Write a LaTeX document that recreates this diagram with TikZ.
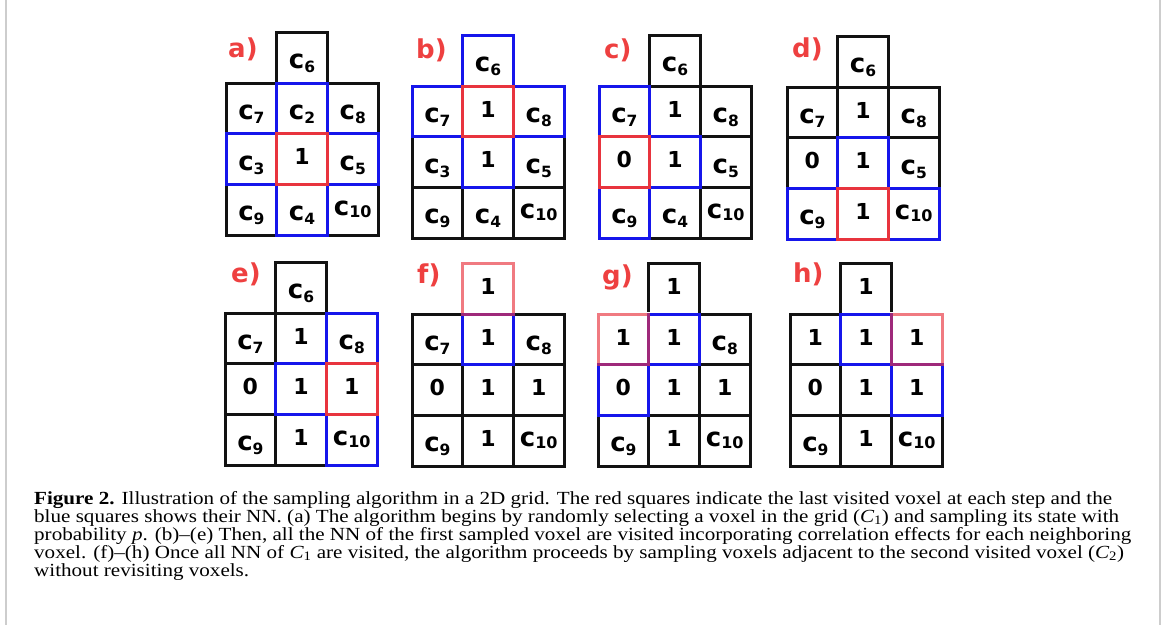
\documentclass[tikz,border=0pt]{standalone}
\usepackage{fontspec}
\setmainfont{Liberation Serif}[FakeStretch=1.14]
\newfontfamily\dvs{DejaVu Sans}
\definecolor{nnblue}{RGB}{22,22,235}
\definecolor{lastred}{RGB}{232,52,62}
\definecolor{labred}{RGB}{238,64,64}
\definecolor{framegrey}{RGB}{205,205,205}
\definecolor{gridblack}{RGB}{18,18,18}
\newcommand\cc[1]{\raisebox{-5.5pt}{\fontsize{26}{26}\selectfont c}\raisebox{-9.5pt}{\fontsize{15.5}{15.5}\selectfont #1}}
\newcommand\ccx{\raisebox{-0.5pt}{\fontsize{26}{26}\selectfont c}\raisebox{-2pt}{\fontsize{16}{16}\selectfont 10}}
\newcommand\gpanel[4]{%
  \foreach \lab [count=\i] in {#4} {%
    \ifnum\i=1
      \node[cell] (#1-\i) at ({#2+50.7}, {#3-50.7}) {\lab};
    \else
      \pgfmathtruncatemacro\rowidx{(\i-2)/3}%
      \pgfmathtruncatemacro\colidx{mod(\i-2,3)}%
      \node[cell] (#1-\i) at ({#2+50.7*\colidx}, {#3+50.7*\rowidx}) {\lab};
    \fi
  }%
}
\newcommand\hl[2]{\draw[#1] (#2.north west) rectangle (#2.south east);}
\tikzset{
  cell/.style={draw=gridblack, line width=3pt, minimum width=50.7pt,
    text height=31pt, text depth=19.7pt, inner sep=0pt, outer sep=0pt,
    anchor=north west, font=\dvs\bfseries\fontsize{22}{22}\selectfont},
  nn/.style={draw=nnblue, line width=3pt},
  last/.style={draw=lastred, line width=3pt},
  wipe/.style={draw=white, line width=3.4pt},
  lastsoft/.style={draw=lastred, draw opacity=0.65, line width=3pt},
  plabel/.style={anchor=base west, inner sep=0pt, text=labred,
    font=\dvs\bfseries\fontsize{26}{26}\selectfont},
  capline/.style={anchor=base west, inner sep=0pt,
    font=\fontsize{18.5}{18.5}\selectfont},
  frameline/.style={draw=framegrey, line width=2pt}
}
\begin{document}
\begin{tikzpicture}[x=1pt,y=-1pt]
\useasboundingbox (0,0) rectangle (1165,630);
\coordinate (fl1) at (6,0);
\coordinate (fl2) at (6,625);
\coordinate (fr1) at (1160,0);
\coordinate (fr2) at (1160,625);
\draw[frameline] (fl1) -- (fl2);
\draw[frameline] (fr1) -- (fr2);

% panels
\gpanel{a}{226}{83}{\cc6, \cc7, \cc2, \cc8, \cc3, 1, \cc5, \cc9, \cc4, \ccx}
\gpanel{b}{412}{86}{\cc6, \cc7, 1, \cc8, \cc3, 1, \cc5, \cc9, \cc4, \ccx}
\gpanel{c}{599}{86}{\cc6, \cc7, 1, \cc8, 0, 1, \cc5, \cc9, \cc4, \ccx}
\gpanel{d}{787}{87}{\cc6, \cc7, 1, \cc8, 0, 1, \cc5, \cc9, 1, \ccx}
\gpanel{e}{225}{313}{\cc6, \cc7, 1, \cc8, 0, 1, 1, \cc9, 1, \ccx}
\gpanel{f}{412}{314}{1, \cc7, 1, \cc8, 0, 1, 1, \cc9, 1, \ccx}
\gpanel{g}{598}{314}{1, 1, 1, \cc8, 0, 1, 1, \cc9, 1, \ccx}
\gpanel{h}{790}{314}{1, 1, 1, 1, 0, 1, 1, \cc9, 1, \ccx}

% clear the black border under the translucent red squares
\hl{wipe}{f-1}\hl{wipe}{g-2}\hl{wipe}{h-4}

% nearest neighbours (blue) and last visited (red)
\hl{nn}{a-3}\hl{nn}{a-5}\hl{nn}{a-7}\hl{nn}{a-9}\hl{last}{a-6}
\hl{nn}{b-1}\hl{nn}{b-2}\hl{nn}{b-4}\hl{nn}{b-6}\hl{last}{b-3}
\hl{nn}{c-2}\hl{nn}{c-6}\hl{nn}{c-8}\hl{last}{c-5}
\hl{nn}{d-6}\hl{nn}{d-8}\hl{nn}{d-10}\hl{last}{d-9}
\hl{nn}{e-4}\hl{nn}{e-6}\hl{nn}{e-10}\hl{last}{e-7}
\hl{nn}{f-3}\hl{lastsoft}{f-1}
\hl{nn}{g-3}\hl{nn}{g-5}\hl{lastsoft}{g-2}
\hl{nn}{h-3}\hl{nn}{h-7}\hl{lastsoft}{h-4}

% panel labels
\node[plabel] (la) at (228,57) {a)};
\node[plabel] (lb) at (416,58) {b)};
\node[plabel] (lc) at (604,58) {c)};
\node[plabel] (ld) at (792,57) {d)};
\node[plabel] (le) at (231,282) {e)};
\node[plabel] (lf) at (417,283) {f)};
\node[plabel] (lg) at (602,284) {g)};
\node[plabel] (lh) at (793,282) {h)};

% caption
\node[capline] (cap1) at (34,504) {\textbf{Figure 2.} Illustration of the sampling algorithm in a 2D grid. The red squares indicate the last visited voxel at each step and the};
\node[capline] (cap2) at (34,522) {blue squares shows their NN. (a) The algorithm begins by randomly selecting a voxel in the grid ({\itshape C}\textsubscript{1}) and sampling its state with};
\node[capline] (cap3) at (34,540) {probability \textit{p}. (b)–(e) Then, all the NN of the first sampled voxel are visited incorporating correlation effects for each neighboring};
\node[capline] (cap4) at (34,558) {voxel. (f)–(h) Once all NN of {\itshape C}\textsubscript{1} are visited, the algorithm proceeds by sampling voxels adjacent to the second visited voxel ({\itshape C}\textsubscript{2})};
\node[capline] (cap5) at (34,576) {without revisiting voxels.};
\end{tikzpicture}
\end{document}
